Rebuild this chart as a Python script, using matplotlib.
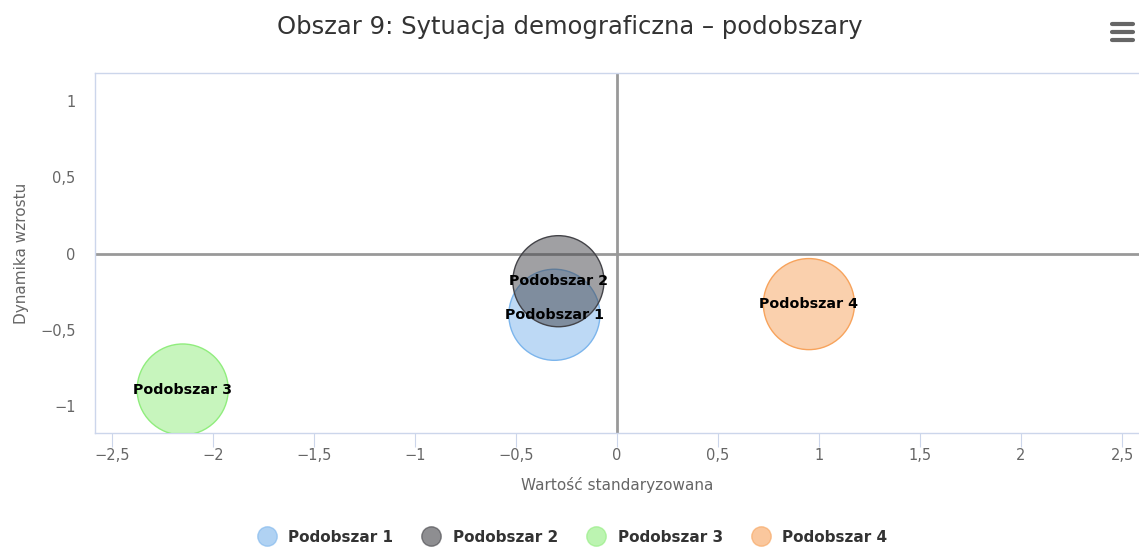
import numpy as np
import matplotlib.pyplot as plt
from matplotlib.lines import Line2D

names = ['Podobszar 1', 'Podobszar 2', 'Podobszar 3', 'Podobszar 4']
x_vals = [-0.31, -0.29, -2.15, 0.95]
y_vals = [-0.40, -0.18, -0.89, -0.33]
colors = ['#7cb5ec', '#434348', '#90ed7d', '#f7a35c']
x_ticks = [-2.5, -2, -1.5, -1, -0.5, 0, 0.5, 1, 1.5, 2, 2.5]
y_ticks = [-1, -0.5, 0, 0.5, 1]

plt.rcParams['font.family'] = ['DejaVu Sans']

fig = plt.figure(figsize=(11.39, 5.49), dpi=100)
ax = fig.add_axes([95 / 1139, 1 - 433 / 549, 1 - 95 / 1139, 360 / 549])
ax.set_xlim(-2.584, 2.584)
ax.set_ylim(-1.175, 1.185)

# quadrant lines
ax.axhline(0, color='#999999', lw=2, zorder=1)
ax.axvline(0, color='#999999', lw=2, zorder=1)

for i in range(len(names)):
    ax.scatter(x_vals[i], y_vals[i], s=4300, color=colors[i], alpha=0.5,
               edgecolors='none', zorder=3)
    ax.scatter(x_vals[i], y_vals[i], s=4300, facecolors='none',
               edgecolors=colors[i], linewidths=1, zorder=3)
    ax.text(x_vals[i], y_vals[i], names[i], ha='center', va='center',
            fontsize=10.3, fontweight='bold', color='black', zorder=5)

ax.set_xticks(x_ticks)
ax.set_xticklabels([str(t).replace('.', ',').replace('-', '\u2212') for t in x_ticks])
ax.set_yticks(y_ticks)
ax.set_yticklabels([str(t).replace('.', ',').replace('-', '\u2212') for t in y_ticks])
ax.tick_params(axis='x', length=10, color='#ccd6eb', labelcolor='#666666',
               labelsize=10.5, pad=1)
ax.tick_params(axis='y', length=0, labelcolor='#666666', labelsize=10.5, pad=14)

for s in ['left', 'top', 'bottom']:
    ax.spines[s].set_color('#ccd6eb')
    ax.spines[s].set_linewidth(1)
ax.spines['right'].set_visible(False)

ax.set_xlabel('Wartość standaryzowana', color='#666666', fontsize=11, labelpad=10)
ax.set_ylabel('Dynamika wzrostu', color='#666666', fontsize=11, labelpad=8)

fig.text(0.5, 1 - 27 / 549, 'Obszar 9: Sytuacja demograficzna \u2013 podobszary',
         ha='center', va='center', fontsize=17.5, color='#333333')

# menu icon
for yy in [24, 32, 40]:
    fig.add_artist(Line2D([1112 / 1139, 1133 / 1139], [1 - yy / 549, 1 - yy / 549],
                          color='#666666', lw=3, solid_capstyle='round'))

handles = [Line2D([], [], marker='o', linestyle='none', markersize=14,
                  markerfacecolor=c, markeredgecolor=c, alpha=0.6) for c in colors]
leg = fig.legend(handles, names, loc='center', bbox_to_anchor=(0.5, 1 - 537 / 549),
                 ncol=4, frameon=False, handletextpad=0.4, columnspacing=1.5,
                 prop={'weight': 'bold', 'size': 11})
for t in leg.get_texts():
    t.set_color('#333333')

fig.savefig('out.png', dpi=100)
